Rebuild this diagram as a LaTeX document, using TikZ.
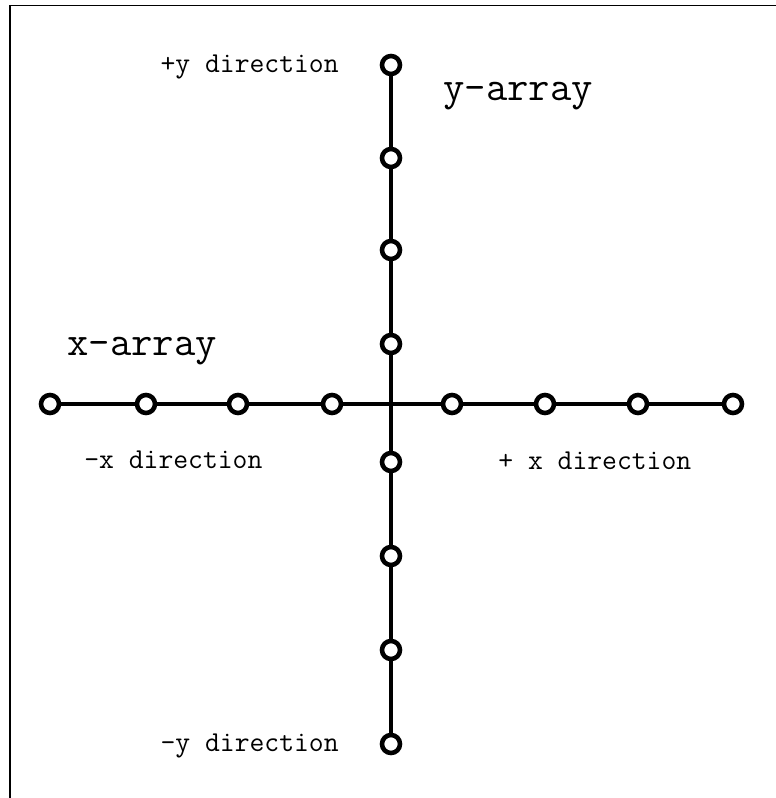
\documentclass[tikz,border=0pt]{standalone}
\usepackage{fontspec}
\usetikzlibrary{positioning}

\begin{document}
\begin{tikzpicture}[x=0.02cm, y=-0.02cm,
  elem/.style={draw, circle, line width=2.6pt, fill=white, inner sep=0pt, minimum size=0.36cm},
  wire/.style={line width=2.6pt},
  dirlabel/.style={inner sep=0pt, font=\ttfamily\fontsize{16.4}{18}\selectfont},
  arraylabel/.style={inner sep=0pt, font=\ttfamily\fontsize{23.6}{26}\selectfont}]
\useasboundingbox (0,0) rectangle (776,798);
\draw[line width=1.1pt] (776,5.5) -- (10,5.5) -- (10,798);
\foreach \name/\px in {x1/50, x2/146, x3/238, x4/332, x5/452, x6/545, x7/638, x8/733}
  \node[elem] (\name) at (\px,404) {};
\foreach \name/\py in {y1/65, y2/158, y3/250, y4/344, y5/462, y6/556, y7/650, y8/744}
  \node[elem] (\name) at (391,\py) {};
\foreach \a/\b in {x1/x2, x2/x3, x3/x4, x4/x5, x5/x6, x6/x7, x7/x8}
  \draw[wire] (\a) -- (\b);
\foreach \a/\b in {y1/y2, y2/y3, y3/y4, y4/y5, y5/y6, y6/y7, y7/y8}
  \draw[wire] (\a) -- (\b);
\node[dirlabel, anchor=east] (ypos) at (339,67) {+y direction};
\node[arraylabel, anchor=west] (yarr) at (443,96) {y-array};
\node[arraylabel, anchor=west] (xarr) at (67,351) {x-array};
\node[dirlabel, anchor=west] (xneg) at (84,460) {-x direction};
\node[dirlabel, anchor=west] (xpos) at (498,461) {+ x direction};
\node[dirlabel, anchor=east] (yneg) at (339,746) {-y direction};
\end{tikzpicture}
\end{document}
